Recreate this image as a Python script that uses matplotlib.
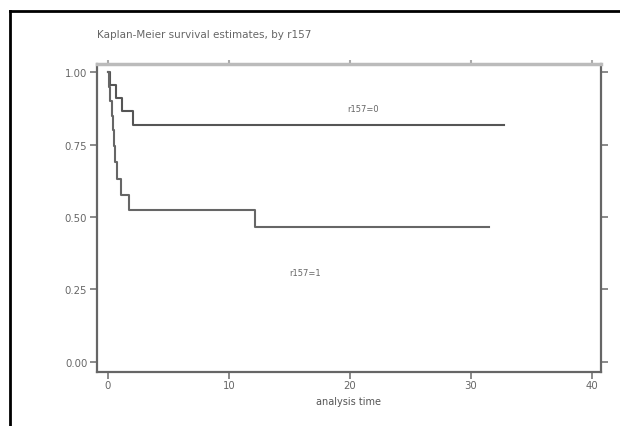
import matplotlib
matplotlib.use("Agg")
import matplotlib.pyplot as plt
from matplotlib.lines import Line2D

# Data
title = "Kaplan-Meier survival estimates, by r157"
xlabel = "analysis time"
group_labels = ["r157=0", "r157=1"]

# group 0 (upper curve): step times and survival after each step
t0 = [0.0, 0.17, 0.66, 1.16, 2.07, 32.7]
s0 = [1.0, 0.955, 0.909, 0.864, 0.818, 0.818]

# group 1 (lower curve)
t1 = [0.0, 0.1, 0.2, 0.3, 0.4, 0.5, 0.58, 0.74, 1.07, 1.74, 12.15, 31.5]
s1 = [1.0, 0.95, 0.90, 0.85, 0.80, 0.745, 0.69, 0.63, 0.576, 0.525, 0.466, 0.466]

xticks = [0, 10, 20, 30, 40]
yticks = [0.0, 0.25, 0.5, 0.75, 1.0]
yticklabels = ["0.00", "0.25", "0.50", "0.75", "1.00"]

# label positions (data coords)
label_pos = [(19.8, 0.875), (15.0, 0.31)]

fig = plt.figure(figsize=(6.2, 4.27), dpi=100)
fig.patch.set_facecolor("white")

# outer black frame (left + top visible in the reference)
fig.add_artist(Line2D([10/620, 10/620], [0, 1 - 12/427], transform=fig.transFigure,
                      color="black", lw=2))
fig.add_artist(Line2D([10/620, 1], [1 - 12/427, 1 - 12/427], transform=fig.transFigure,
                      color="black", lw=2))

ax = fig.add_axes([97/620, 1 - 373/427, (601 - 97)/620, (373 - 65)/427])
ax.set_xlim(-0.91, 40.74)
ax.set_ylim(-0.0345, 1.0276)

ax.step(t0, s0, where="post", color="#555555", lw=1.5)
ax.step(t1, s1, where="post", color="#666666", lw=1.5)

for (x, y), lab in zip(label_pos, group_labels):
    ax.text(x, y, lab, fontsize=6, color="#666666", ha="left", va="center")

for side in ["left", "right", "bottom"]:
    ax.spines[side].set_color("#666666")
    ax.spines[side].set_linewidth(1.6)
ax.spines["top"].set_color("#bbbbbb")
ax.spines["top"].set_linewidth(2.5)

ax.set_xticks(xticks)
ax.set_xticklabels([str(v) for v in xticks])
ax.set_yticks(yticks)
ax.set_yticklabels(yticklabels)
ax.tick_params(axis="both", which="both", direction="out", length=5, width=1.2,
               color="#777777", labelcolor="#666666", labelsize=7.3,
               top=False, right=True, labeltop=False, labelright=False, pad=2)
ax.tick_params(axis="x", pad=1)

# short light top ticks
sec = ax.secondary_xaxis("top")
sec.set_xticks(xticks)
sec.tick_params(direction="out", length=3, width=1.5, color="#aaaaaa", labeltop=False)
sec.spines["top"].set_visible(False)

ax.set_xlabel(xlabel, fontsize=7, color="#555555", labelpad=4)
fig.text(97/620, 1 - 35/427, title, fontsize=7.5, color="#666666", ha="left", va="center")

fig.savefig("out.png", dpi=100)
